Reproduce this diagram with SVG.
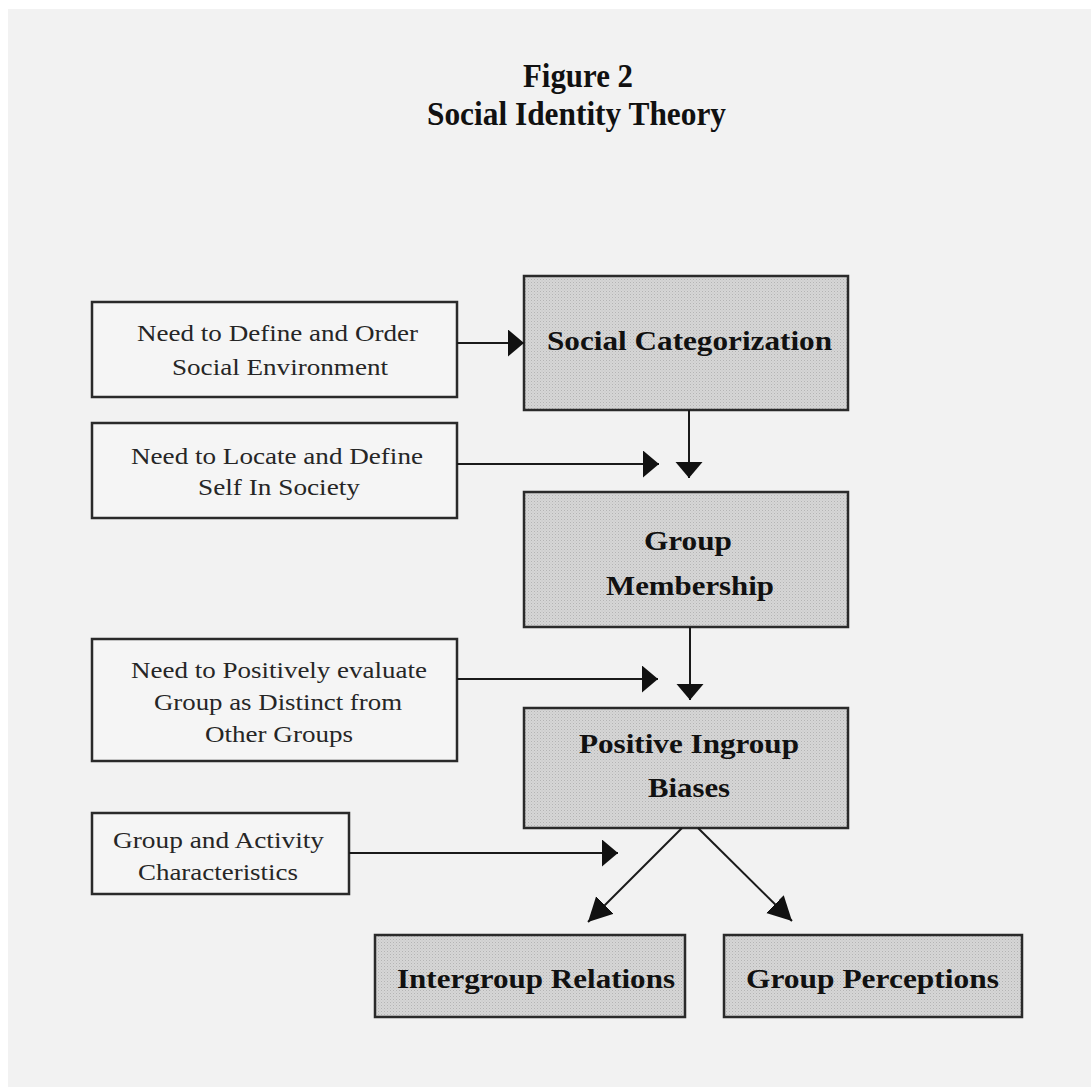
<svg xmlns="http://www.w3.org/2000/svg" width="1091" height="1087" viewBox="0 0 1091 1087">
  <defs>
    <pattern id="dots" width="3" height="3" patternUnits="userSpaceOnUse">
      <rect width="3" height="3" fill="#d6d6d6"/>
      <rect width="1" height="1" fill="#b4b4b4"/>
      <rect x="1.5" y="1.5" width="1" height="1" fill="#c2c2c2"/>
    </pattern>
    <marker id="ah" markerUnits="userSpaceOnUse" markerWidth="17" markerHeight="28" refX="16" refY="13.5" orient="auto" viewBox="0 0 17 28">
      <path d="M0,0 L16,13.5 L0,27 Z" fill="#111"/>
    </marker>
    <marker id="ahd" markerUnits="userSpaceOnUse" markerWidth="25" markerHeight="26" refX="24" refY="12.5" orient="auto" viewBox="0 0 25 26">
      <path d="M0,0 L24,12.5 L0,25 Z" fill="#111"/>
    </marker>
    <style>
      .need { fill: #f5f5f5; stroke: #2a2a2a; stroke-width: 2.5; }
      .core { fill: url(#dots); stroke: #2a2a2a; stroke-width: 2.5; }
      .reg { font-family: "Liberation Serif", "Times New Roman", serif; font-size: 23px; fill: #262626; text-anchor: middle; }
      .bold { font-family: "Liberation Serif", "Times New Roman", serif; font-size: 28px; font-weight: bold; fill: #111; text-anchor: middle; }
      .title { font-family: "Liberation Serif", "Times New Roman", serif; font-size: 33px; font-weight: bold; fill: #111; text-anchor: middle; }
      .conn line { stroke: #1a1a1a; stroke-width: 2; fill: none; }
    </style>
  </defs>

  <rect x="0" y="0" width="1091" height="1087" fill="#ffffff"/>
  <rect x="8" y="9" width="1083" height="1078" fill="#f2f2f2"/>

  <g id="title">
    <text class="title" x="578" y="87" textLength="110" lengthAdjust="spacingAndGlyphs">Figure 2</text>
    <text class="title" x="576.5" y="125" textLength="299" lengthAdjust="spacingAndGlyphs">Social Identity Theory</text>
  </g>

  <g id="need-order">
    <rect class="need" x="92" y="302" width="365" height="95"/>
    <text class="reg" x="277.5" y="341" textLength="281" lengthAdjust="spacingAndGlyphs">Need to Define and Order</text>
    <text class="reg" x="280" y="375" textLength="216" lengthAdjust="spacingAndGlyphs">Social Environment</text>
  </g>

  <g id="need-locate">
    <rect class="need" x="92" y="423" width="365" height="95"/>
    <text class="reg" x="277" y="464" textLength="292" lengthAdjust="spacingAndGlyphs">Need to Locate and Define</text>
    <text class="reg" x="279" y="495" textLength="162" lengthAdjust="spacingAndGlyphs">Self In Society</text>
  </g>

  <g id="need-evaluate">
    <rect class="need" x="92" y="639" width="365" height="122"/>
    <text class="reg" x="279" y="678" textLength="296" lengthAdjust="spacingAndGlyphs">Need to Positively evaluate</text>
    <text class="reg" x="278" y="710" textLength="248" lengthAdjust="spacingAndGlyphs">Group as Distinct from</text>
    <text class="reg" x="279" y="742" textLength="148" lengthAdjust="spacingAndGlyphs">Other Groups</text>
  </g>

  <g id="group-activity">
    <rect class="need" x="92" y="813" width="257" height="81"/>
    <text class="reg" x="218.5" y="848" textLength="211" lengthAdjust="spacingAndGlyphs">Group and Activity</text>
    <text class="reg" x="218" y="880" textLength="160" lengthAdjust="spacingAndGlyphs">Characteristics</text>
  </g>

  <g id="social-categorization">
    <rect class="core" x="524" y="276" width="324" height="134"/>
    <text class="bold" x="689.5" y="350" textLength="285" lengthAdjust="spacingAndGlyphs">Social  Categorization</text>
  </g>

  <g id="group-membership">
    <rect class="core" x="524" y="492" width="324" height="135"/>
    <text class="bold" x="688" y="550" textLength="88" lengthAdjust="spacingAndGlyphs">Group</text>
    <text class="bold" x="690" y="595" textLength="168" lengthAdjust="spacingAndGlyphs">Membership</text>
  </g>

  <g id="positive-ingroup-biases">
    <rect class="core" x="524" y="708" width="324" height="120"/>
    <text class="bold" x="689" y="753" textLength="220" lengthAdjust="spacingAndGlyphs">Positive Ingroup</text>
    <text class="bold" x="689" y="797" textLength="82" lengthAdjust="spacingAndGlyphs">Biases</text>
  </g>

  <g id="intergroup-relations">
    <rect class="core" x="375" y="935" width="310" height="82"/>
    <text class="bold" x="536" y="988" textLength="278" lengthAdjust="spacingAndGlyphs">Intergroup Relations</text>
  </g>

  <g id="group-perceptions">
    <rect class="core" x="724" y="935" width="298" height="82"/>
    <text class="bold" x="872.5" y="988" textLength="253" lengthAdjust="spacingAndGlyphs">Group Perceptions</text>
  </g>

  <g id="connectors" class="conn">
    <line x1="457" y1="343" x2="524" y2="343" marker-end="url(#ah)"/>
    <line x1="457" y1="464" x2="659" y2="464" marker-end="url(#ah)"/>
    <line x1="689" y1="410" x2="689" y2="478" marker-end="url(#ah)"/>
    <line x1="457" y1="679" x2="658" y2="679" marker-end="url(#ah)"/>
    <line x1="690" y1="627" x2="690" y2="700" marker-end="url(#ah)"/>
    <line x1="349" y1="853" x2="618" y2="853" marker-end="url(#ah)"/>
    <line x1="682" y1="828" x2="588" y2="922" marker-end="url(#ahd)"/>
    <line x1="698" y1="828" x2="792" y2="921" marker-end="url(#ahd)"/>
  </g>
</svg>
